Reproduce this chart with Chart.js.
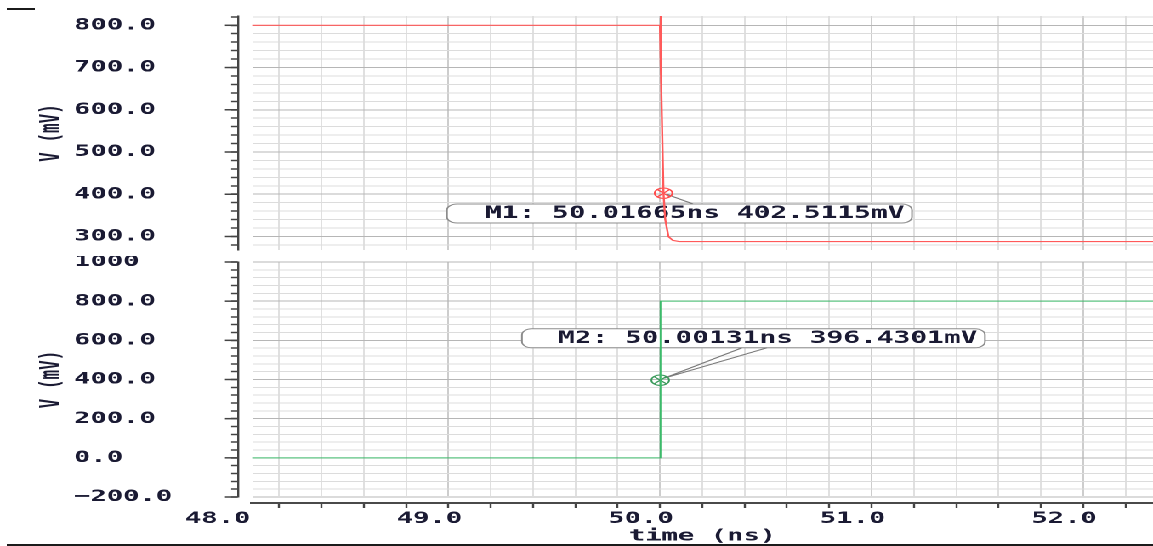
<!DOCTYPE html>
<html><head><meta charset="utf-8">
<script src="https://cdn.jsdelivr.net/npm/chart.js@4.4.1/dist/chart.umd.min.js"></script>
<style>
html,body{margin:0;padding:0;background:#fff;overflow:hidden;width:1153px;height:546px;}
#stretch{position:absolute;left:0;top:0;width:678px;height:546px;transform-origin:0 0;transform:scaleX(1.7005900);}
#topWrap{position:absolute;left:0;top:0;}
#botWrap{position:absolute;left:0;top:256px;}
.rule{position:absolute;background:#1b1b1b;height:2px;}
</style></head><body>
<div id="stretch">
 <div id="topWrap"><canvas id="topChart" width="678" height="256" style="width:678px;height:256px"></canvas></div>
 <div id="botWrap"><canvas id="botChart" width="678" height="290" style="width:678px;height:290px"></canvas></div>
</div>
<div class="rule" style="left:7px;top:8px;width:28px"></div>
<div class="rule" style="left:7px;top:544px;width:1146px"></div>
<script>
// ---------------- data ----------------
const topTime = [48.072, 50.000, 50.002, 50.006, 50.01665, 50.025, 50.040, 50.060, 50.090, 52.330];
const topVolt = [800, 800, 835, 700, 402.5115, 340, 300, 291, 288, 288];
const botTime = [48.072, 50.000, 50.0026, 52.330];
const botVolt = [0, 0, 800, 800];
const markerNames = ['M1', 'M2'];
const markerTimes = [50.01665, 50.00131];
const markerVolts = [402.5115, 396.4301];
const xTickValues = [48, 49, 50, 51, 52];
const xTickLabels = ['48.0', '49.0', '50.0', '51.0', '52.0'];
const topTickValues = [300, 400, 500, 600, 700, 800];
const topTickLabels = ['300.0', '400.0', '500.0', '600.0', '700.0', '800.0'];
const botTickValues = [-200, 0, 200, 400, 600, 800, 1000];
const botTickLabels = ['\u2212200.0', '0.0', '200.0', '400.0', '600.0', '800.0', '1000'];
const xRange = [48.072, 52.33];
const topRange = [268, 822];
const botRange = [-200, 1000];
const xTitle = 'time (ns)';
const yTitle = 'V (mV)';

// ---------------- helpers ----------------
const K = 1153 / 678;
const sx = v => v / K;
const TEXT = '#1a1a33';
const FONT = '"DejaVu Sans Mono", "Liberation Mono", monospace';
const lookup = (vals, labs, v) => { const i = vals.findIndex(t => Math.abs(t - v) < 1e-6); return i < 0 ? '' : labs[i]; };
const isMult = (v, step) => Math.abs(v / step - Math.round(v / step)) < 1e-6;
const toXY = (ts, vs) => ts.map((t, i) => ({x: t, y: vs[i]}));
const markerLabel = i => `${markerNames[i]}: ${markerTimes[i].toFixed(5)}ns ${markerVolts[i].toFixed(4)}mV`;
const zeroPad = s => { s.paddingLeft = 0; s.paddingRight = 0; s.paddingTop = 0; s.paddingBottom = 0; };
const xGridColor = c => (c.tick.value < xRange[0] ? 'rgba(0,0,0,0)' : (isMult(c.tick.value, 1) ? '#cdcdcd' : '#e0e0e0'));

function yScale(range, step, major, vals, labs) {
  return {
    type: 'linear', position: 'left', weight: 1, min: range[0], max: range[1],
    border: {display: true, color: '#444', width: 1.2},
    grid: {color: c => isMult(c.tick.value, major) ? '#b6b6b6' : '#dcdcdc', lineWidth: 1,
           drawTicks: true, tickLength: 4, tickColor: '#444', tickWidth: 1.5},
    ticks: {stepSize: step, autoSkip: false, includeBounds: false, crossAlign: 'near', padding: 34.65,
            color: TEXT, font: {family: FONT, size: 16, weight: 'bold'},
            callback: v => { const l = lookup(vals, labs, v); return l ? l.padEnd(6, ' ') : ''; }},
    title: {display: true, text: yTitle, color: TEXT, font: {family: FONT, size: 16, weight: 'bold'},
            padding: {top: 20.7, bottom: 0}},
    afterFit: s => { s.width = sx(238); zeroPad(s); }
  };
}
const yPad = () => ({type: 'linear', axis: 'y', position: 'left', weight: 0, display: true,
  grid: {display: false}, ticks: {display: false}, border: {display: false},
  afterFit: s => { s.width = sx(252) - sx(238); zeroPad(s); }});

const majorTicks = {
  id: 'majorTicks',
  afterDraw(chart, args, opts) {
    const s = chart.scales.y, ctx = chart.ctx;
    ctx.save(); ctx.strokeStyle = '#444'; ctx.lineWidth = 1.5;
    s.ticks.forEach(t => {
      if (isMult(t.value, opts.step)) {
        const y = s.getPixelForValue(t.value);
        ctx.beginPath(); ctx.moveTo(s.right - sx(13), y); ctx.lineTo(s.right, y); ctx.stroke();
      }
    });
    ctx.restore();
  }
};

function markerPlugin(i, g) {
  return {
    id: 'marker' + i,
    beforeDatasetsDraw(chart) {
      const {ctx, scales: {x, y}} = chart;
      const px = x.getPixelForValue(markerTimes[i]);
      const py = y.getPixelForValue(markerVolts[i]);
      const bx = px + sx(g.boxL), bw = sx(g.boxR - g.boxL), by = py + g.boxT, bh = g.boxB - g.boxT;
      ctx.save();
      ctx.beginPath();
      if (ctx.roundRect) ctx.roundRect(bx, by, bw, bh, 6); else ctx.rect(bx, by, bw, bh);
      ctx.fillStyle = '#fff'; ctx.fill();
      ctx.strokeStyle = '#8c8c8c'; ctx.lineWidth = 1; ctx.stroke();
      ctx.beginPath();
      g.leadTo.forEach(dx => { ctx.moveTo(px + sx(g.leadFrom[0]), py + g.leadFrom[1]); ctx.lineTo(px + sx(dx), py + g.leadY); });
      ctx.strokeStyle = '#7a7a7a'; ctx.stroke();
      ctx.font = `bold 16.4px ${FONT}`;
      ctx.fillStyle = TEXT; ctx.textBaseline = 'middle'; ctx.textAlign = 'left';
      ctx.fillText(markerLabel(i), px + sx(g.textL), by + bh / 2 + 0.5);
      ctx.restore();
    }
  };
}

function markerSets(i, color) {
  const pt = [{x: markerTimes[i], y: markerVolts[i]}];
  return [
    {data: pt, showLine: false, pointStyle: 'circle', pointRadius: 5.2, pointBorderWidth: 1, borderColor: color, backgroundColor: 'rgba(0,0,0,0)'},
    {data: pt, showLine: false, pointStyle: 'crossRot', pointRadius: 5.2, pointBorderWidth: 1, borderColor: color, backgroundColor: 'rgba(0,0,0,0)'}
  ];
}

const common = {
  responsive: false, animation: false, devicePixelRatio: 2, events: [],
  plugins: {legend: {display: false}, tooltip: {enabled: false}}
};

// ---------------- top panel ----------------
new Chart(document.getElementById('topChart'), {
  type: 'line',
  data: {datasets: [
    {data: toXY(topTime, topVolt), borderColor: '#ff5a5a', borderWidth: 1.2, pointRadius: 0, tension: 0, fill: false},
    ...markerSets(0, '#ff4a4a')
  ]},
  options: Object.assign({}, common, {
    layout: {autoPadding: false, padding: {left: 0, right: 0, top: 16, bottom: 6}},
    plugins: Object.assign({}, common.plugins, {majorTicks: {step: 100}}),
    scales: {
      x: {type: 'linear', position: 'bottom', weight: 1, min: xRange[0], max: xRange[1],
          border: {display: false}, grid: {color: xGridColor, lineWidth: 1, drawTicks: false},
          ticks: {display: false, stepSize: 0.2, autoSkip: false, includeBounds: false},
          afterFit: s => { s.height = 0; zeroPad(s); }},
      y: yScale(topRange, 20, 100, topTickValues, topTickLabels),
      ypad: yPad()
    }
  }),
  plugins: [majorTicks, markerPlugin(0, {boxL: -216.5, boxR: 248.5, boxT: 10.8, boxB: 29.8, textL: -178.5,
                                        leadFrom: [3, 1], leadTo: [29.5], leadY: 10.8})]
});

// ---------------- bottom panel ----------------
new Chart(document.getElementById('botChart'), {
  type: 'line',
  data: {datasets: [
    {data: toXY(botTime, botVolt), borderColor: '#3cba6a', borderWidth: 1, pointRadius: 0, tension: 0, fill: false},
    ...markerSets(1, '#3a9a5a')
  ]},
  options: Object.assign({}, common, {
    layout: {autoPadding: false, padding: {left: 0, right: 0, top: 6, bottom: 0}},
    plugins: Object.assign({}, common.plugins, {majorTicks: {step: 200}}),
    scales: {
      x: {type: 'linear', position: 'bottom', weight: 1, min: xRange[0], max: xRange[1],
          border: {display: true, color: '#4a4a4a', width: 2},
          grid: {color: xGridColor, lineWidth: 1, drawTicks: true, tickLength: 5,
                 tickColor: c => c.tick.value < xRange[0] ? 'rgba(0,0,0,0)' : '#444', tickWidth: 1.2},
          ticks: {stepSize: 0.2, autoSkip: false, includeBounds: false, maxRotation: 0, minRotation: 0,
                  padding: 1.4, labelOffset: sx(-19), color: TEXT, font: {family: FONT, size: 16, weight: 'bold'},
                  callback: v => lookup(xTickValues, xTickLabels, v)},
          title: {display: true, text: xTitle, color: TEXT, font: {family: FONT, size: 16, weight: 'bold'}, padding: {top: 0, bottom: 0}},
          afterBuildTicks: s => {
            xTickValues.slice().reverse().forEach(v => {
              if (v < s.min && !s.ticks.some(t => Math.abs(t.value - v) < 1e-6)) s.ticks.unshift({value: v});
            });
          },
          afterFit: s => { s.height = 43; zeroPad(s); }},
      xpad: {type: 'linear', axis: 'x', position: 'bottom', weight: 0, display: true,
             grid: {display: false}, ticks: {display: false}, border: {display: false},
             afterFit: s => { s.height = 6; zeroPad(s); }},
      y: yScale(botRange, 40, 200, botTickValues, botTickLabels),
      ypad: yPad()
    }
  }),
  plugins: [majorTicks, markerPlugin(1, {boxL: -138.3, boxR: 324.7, boxT: -51.4, boxB: -32.4, textL: -102.3,
                                        leadFrom: [4, -2], leadTo: [81.7, 106.7], leadY: -32.4})]
});
</script>
</body></html>
